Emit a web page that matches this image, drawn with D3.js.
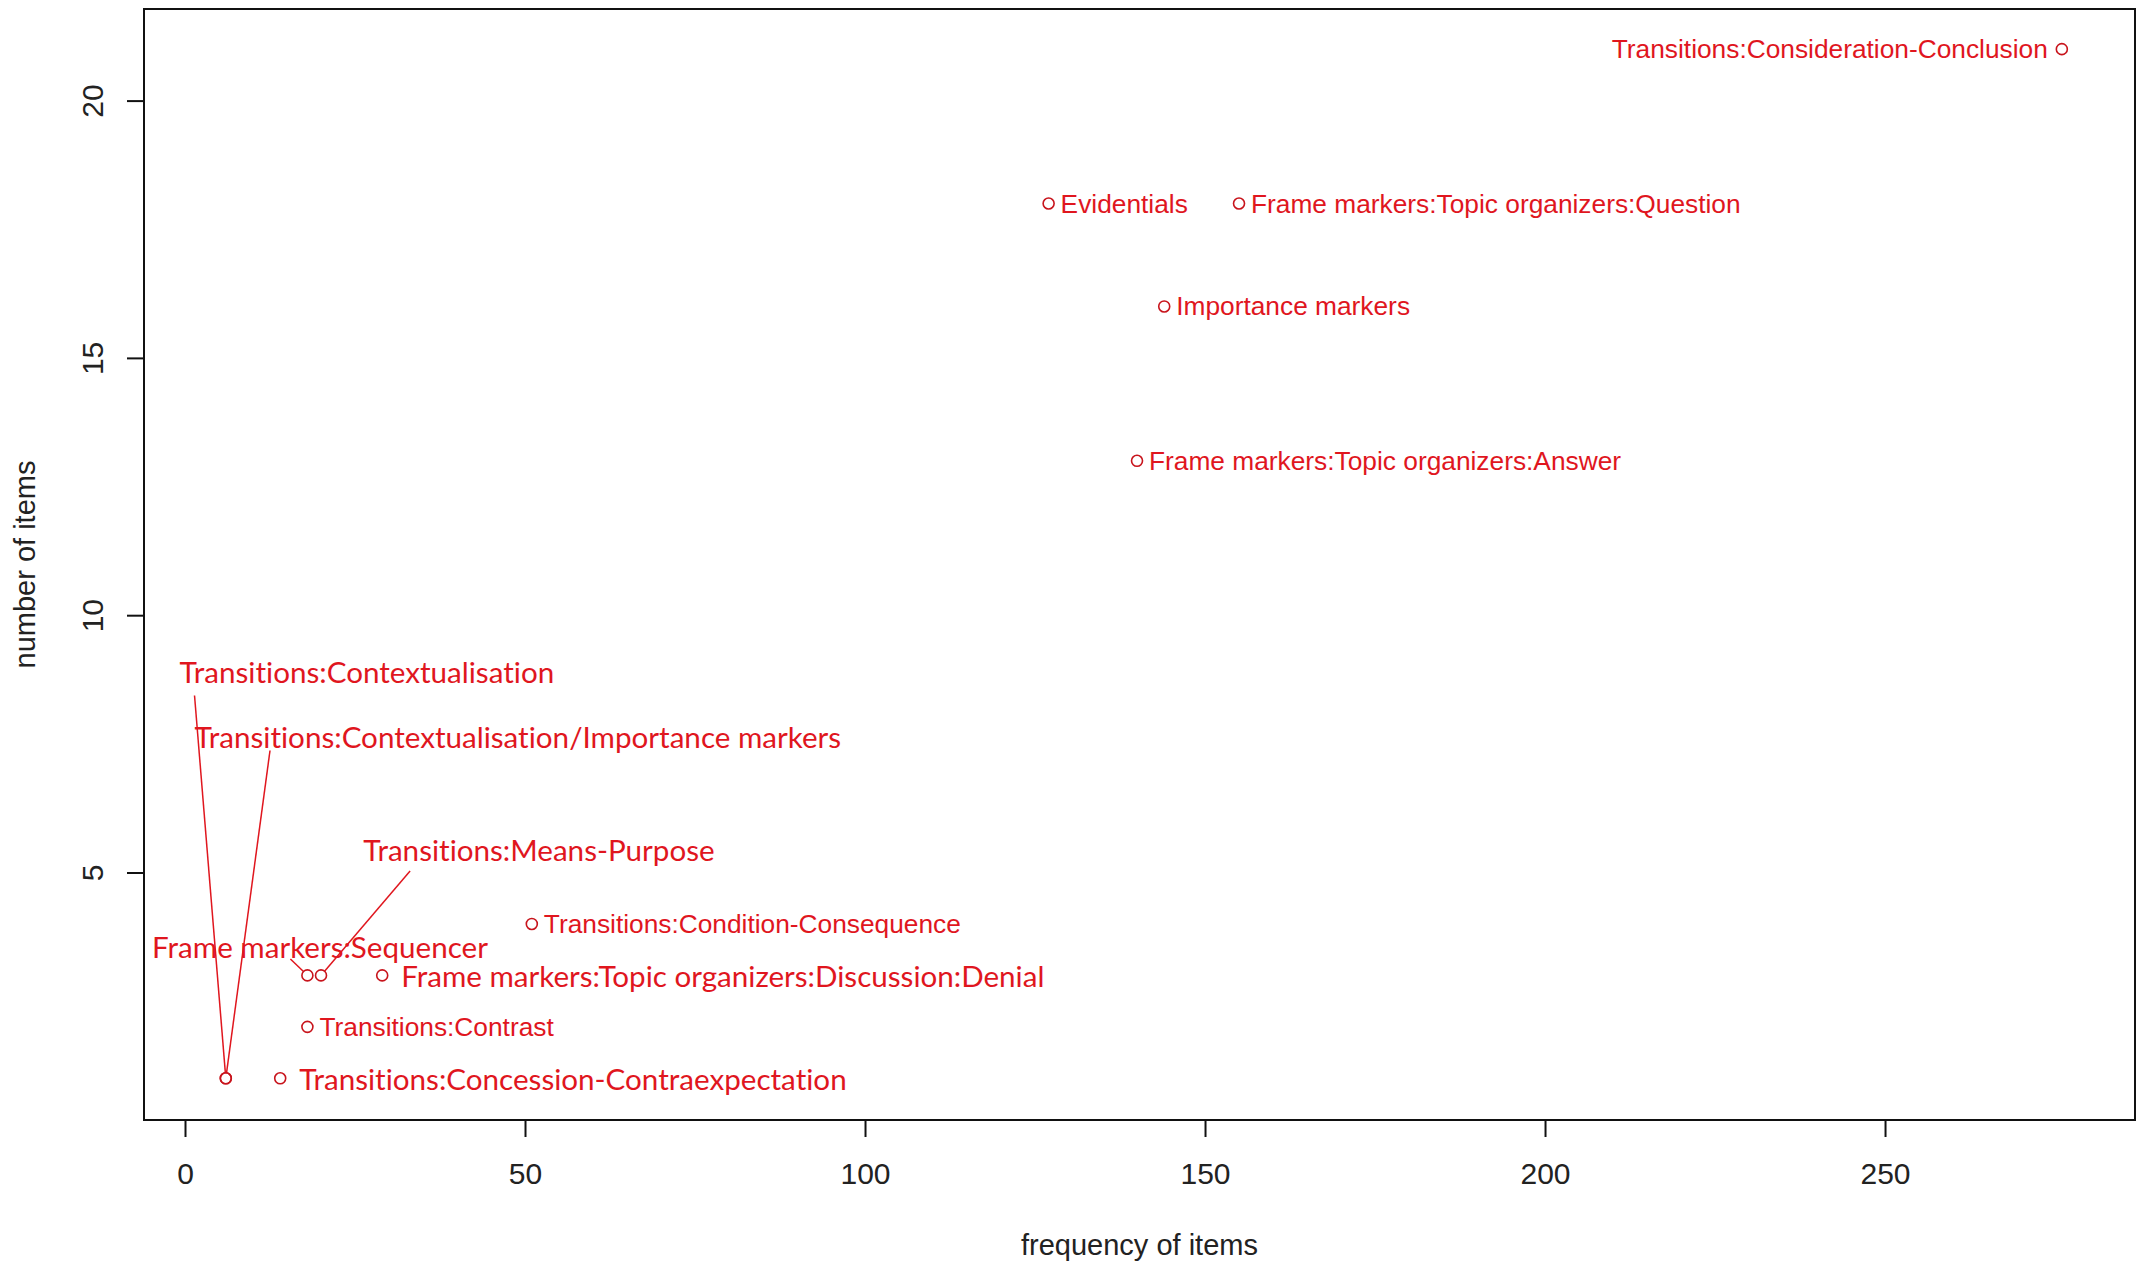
<!DOCTYPE html>
<html>
<head>
<meta charset="utf-8">
<script src="https://cdn.jsdelivr.net/npm/d3@7"></script>
<style>
  body { margin: 0; background: #fff; }
  text.label { font-variant-ligatures: none; }
</style>
</head>
<body>
<div id="chart"></div>
<script>
// data
const labels = [
  "Transitions:Consideration-Conclusion",
  "Evidentials",
  "Frame markers:Topic organizers:Question",
  "Importance markers",
  "Frame markers:Topic organizers:Answer",
  "Transitions:Condition-Consequence",
  "Frame markers:Topic organizers:Discussion:Denial",
  "Frame markers:Sequencer",
  "Transitions:Means-Purpose",
  "Transitions:Contrast",
  "Transitions:Contextualisation",
  "Transitions:Contextualisation/Importance markers",
  "Transitions:Concession-Contraexpectation"
];
const frequency = [276, 127, 155, 144, 140, 51, 29, 18, 20, 18, 6, 6, 14];
const numberOfItems = [21, 18, 18, 16, 13, 4, 3, 3, 3, 2, 1, 1, 1];

const xTicks = [0, 50, 100, 150, 200, 250];
const yTicks = [5, 10, 15, 20];

// axis limits (R style, 4% padding)
const xLimits = [-6.03, 286.76];
const yLimits = [0.19, 21.78];

// label placement: "right" / "left" are plain R text(pos=4/2),
// callouts carry label anchor (lx, ly) and leader start (sx, sy) in data units
const labelLayout = {
  "Transitions:Consideration-Conclusion": { mode: "left" },
  "Frame markers:Topic organizers:Discussion:Denial": { mode: "wide" },
  "Transitions:Concession-Contraexpectation": { mode: "wide" },
  "Transitions:Contextualisation": { mode: "callout", lx: -0.8, ly: 8.9, sx: 1.4, sy: 8.44 },
  "Transitions:Contextualisation/Importance markers": { mode: "callout", lx: 1.4, ly: 7.64, sx: 12.5, sy: 7.37 },
  "Transitions:Means-Purpose": { mode: "callout", lx: 26.2, ly: 5.45, sx: 33.1, sy: 5.03 },
  "Frame markers:Sequencer": { mode: "callout", lx: -4.84, ly: 3.56, sx: 15.5, sy: 3.32 }
};

const data = labels.map((d, i) => ({ name: d, x: frequency[i], y: numberOfItems[i] }));

const width = 2149;
const height = 1264;
const plot = { left: 144, right: 2135, top: 9, bottom: 1120 };

const red = "#e0161e";
const r = 5.5;
const rFont = "'Liberation Sans', Arial, sans-serif";
const handFont = "Lato, 'Open Sans', sans-serif";

const svg = d3.select("#chart")
  .append("svg")
    .attr("width", width)
    .attr("height", height);

const x = d3.scaleLinear().domain(xLimits).range([plot.left, plot.right]);
const y = d3.scaleLinear().domain(yLimits).range([plot.bottom, plot.top]);

// axes
const xAxis = svg.append("g")
  .attr("transform", `translate(0, ${plot.bottom})`)
  .call(d3.axisBottom(x).tickValues(xTicks).tickSize(17).tickPadding(0));
xAxis.select(".domain").remove();
xAxis.selectAll("line").attr("stroke", "#111").attr("stroke-width", 2);
xAxis.selectAll("text")
  .attr("y", 53)
  .attr("dy", null)
  .attr("dominant-baseline", "central")
  .attr("font-family", rFont)
  .attr("font-size", 30)
  .attr("fill", "#222");

const yAxis = svg.append("g")
  .attr("transform", `translate(${plot.left}, 0)`)
  .call(d3.axisLeft(y).tickValues(yTicks).tickSize(17).tickPadding(0));
yAxis.select(".domain").remove();
yAxis.selectAll("line").attr("stroke", "#111").attr("stroke-width", 2);
yAxis.selectAll("text")
  .attr("x", null)
  .attr("dy", null)
  .attr("text-anchor", "middle")
  .attr("dominant-baseline", "central")
  .attr("transform", "translate(-52, 0) rotate(-90)")
  .attr("font-family", rFont)
  .attr("font-size", 30)
  .attr("fill", "#222");

// frame
svg.append("rect")
  .attr("x", plot.left)
  .attr("y", plot.top)
  .attr("width", plot.right - plot.left)
  .attr("height", plot.bottom - plot.top)
  .attr("fill", "none")
  .attr("stroke", "#111")
  .attr("stroke-width", 2);

// axis titles
svg.append("text")
  .attr("x", (plot.left + plot.right) / 2)
  .attr("y", 1245)
  .attr("text-anchor", "middle")
  .attr("dominant-baseline", "central")
  .attr("font-family", rFont)
  .attr("font-size", 29)
  .attr("fill", "#222")
  .text("frequency of items");

svg.append("text")
  .attr("transform", `translate(25, ${(plot.top + plot.bottom) / 2}) rotate(-90)`)
  .attr("text-anchor", "middle")
  .attr("dominant-baseline", "central")
  .attr("font-family", rFont)
  .attr("font-size", 29)
  .attr("fill", "#222")
  .text("number of items");

// leader lines
const callouts = data.filter(d => labelLayout[d.name] && labelLayout[d.name].mode === "callout");
svg.selectAll("line.leader")
  .data(callouts)
  .enter()
  .append("line")
    .attr("class", "leader")
    .attr("x1", d => x(labelLayout[d.name].sx))
    .attr("y1", d => y(labelLayout[d.name].sy))
    .attr("x2", d => {
      const L = labelLayout[d.name];
      const dx = x(d.x) - x(L.sx), dy = y(d.y) - y(L.sy);
      const len = Math.hypot(dx, dy);
      return x(d.x) - dx / len * r;
    })
    .attr("y2", d => {
      const L = labelLayout[d.name];
      const dx = x(d.x) - x(L.sx), dy = y(d.y) - y(L.sy);
      const len = Math.hypot(dx, dy);
      return y(d.y) - dy / len * r;
    })
    .attr("stroke", red)
    .attr("stroke-width", 1.5);

// points
svg.selectAll("circle")
  .data(data)
  .enter()
  .append("circle")
    .attr("cx", d => x(d.x))
    .attr("cy", d => y(d.y))
    .attr("r", r)
    .attr("fill", "none")
    .attr("stroke", "#c8141c")
    .attr("stroke-width", 1.6);

// labels
svg.selectAll("text.label")
  .data(data)
  .enter()
  .append("text")
    .attr("class", "label")
    .each(function (d) {
      const L = labelLayout[d.name] || { mode: "right" };
      const t = d3.select(this);
      if (L.mode === "callout") {
        t.attr("x", x(L.lx)).attr("y", y(L.ly))
          .attr("text-anchor", "start")
          .attr("font-family", handFont).attr("font-size", 29.6);
      } else if (L.mode === "wide") {
        t.attr("x", x(d.x) + 19).attr("y", y(d.y))
          .attr("text-anchor", "start")
          .attr("font-family", handFont).attr("font-size", 29.6);
      } else if (L.mode === "left") {
        t.attr("x", x(d.x) - 14).attr("y", y(d.y))
          .attr("text-anchor", "end")
          .attr("font-family", rFont).attr("font-size", 26.3);
      } else {
        t.attr("x", x(d.x) + 12).attr("y", y(d.y))
          .attr("text-anchor", "start")
          .attr("font-family", rFont).attr("font-size", 26.3);
      }
    })
    .attr("dominant-baseline", "central")
    .attr("fill", red)
    .text(d => d.name);
</script>
</body>
</html>
